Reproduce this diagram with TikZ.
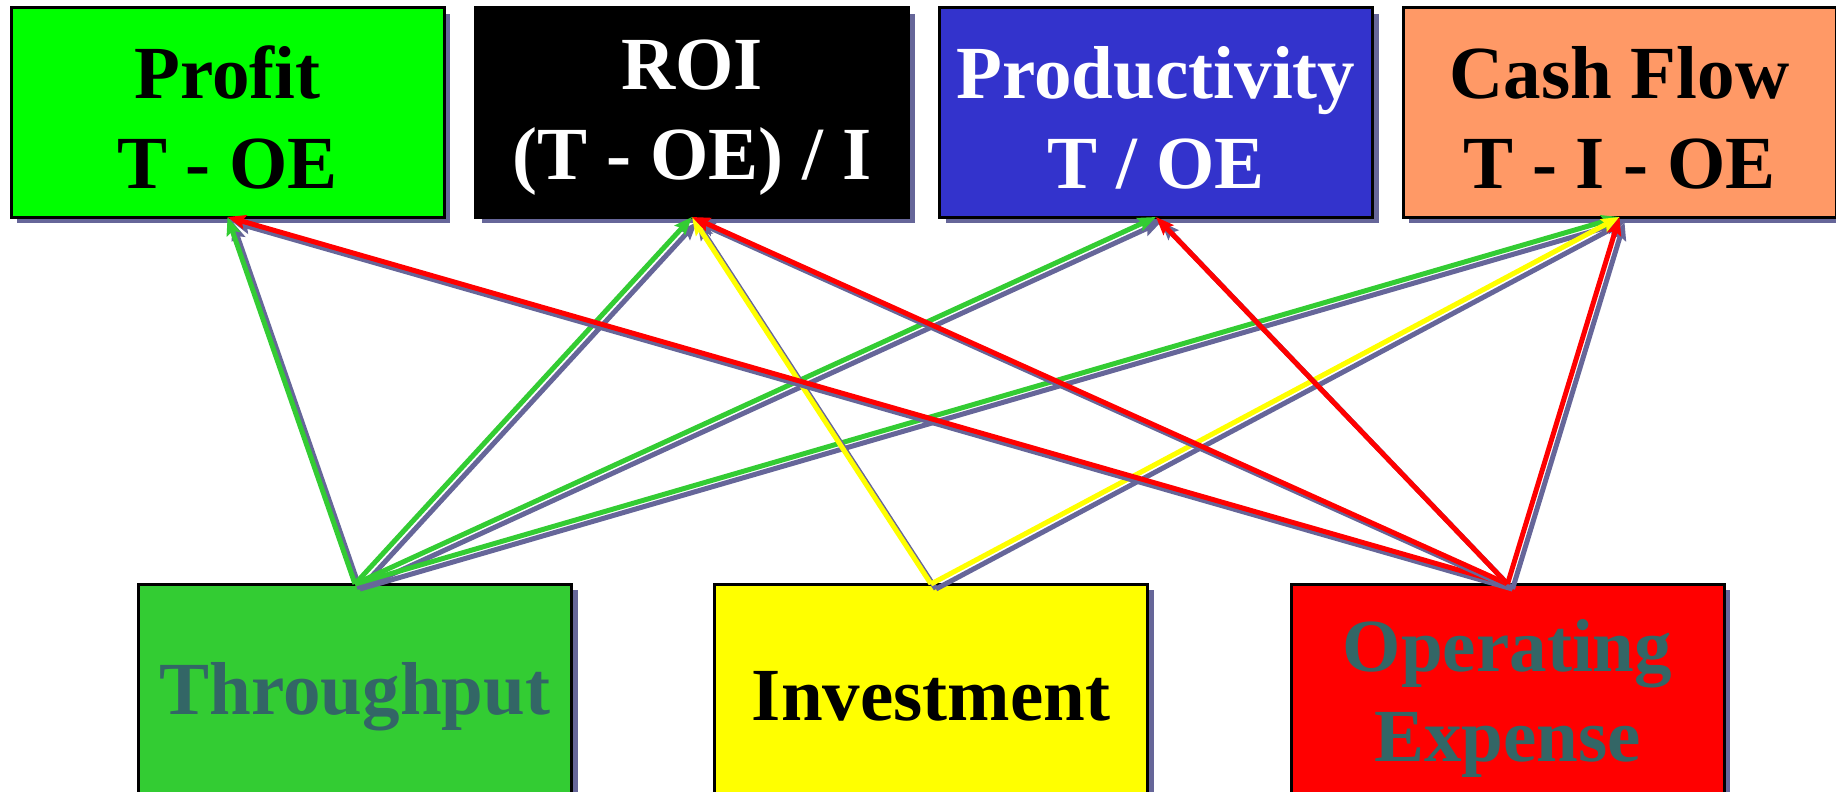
\documentclass[tikz,border=0pt]{standalone}
\usepackage{fontspec}
\setmainfont{Liberation Serif}
\usetikzlibrary{arrows.meta,shadows}

\definecolor{shade}{HTML}{666699}
\definecolor{limegreen}{HTML}{00FF00}
\definecolor{royal}{HTML}{3333CC}
\definecolor{salmon}{HTML}{FF9966}
\definecolor{leaf}{HTML}{33CC33}
\definecolor{lemon}{HTML}{FFFF00}
\definecolor{scarlet}{HTML}{FF0000}
\definecolor{teal}{HTML}{336666}

% one measurement link: offset shadow line, then the coloured arrow on top
\newcommand{\measlink}[3]{%
  \draw[link, draw=shade, fill=shade, transform canvas={xshift=5pt,yshift=-5pt}] (#2.north) -- (#3.south);
  \draw[link, draw=#1, fill=#1] (#2.north) -- (#3.south);
}

\begin{document}
\begin{tikzpicture}[x=1pt,y=-1pt,
  card/.style={draw=black, line width=3pt, minimum width=433pt, minimum height=209pt,
    inner sep=0pt, outer sep=0pt,
    drop shadow={shadow xshift=6pt, shadow yshift=-6pt, fill=shade, opacity=1}},
  caption/.style={inner sep=0pt, align=center, font=\fontsize{75}{90}\selectfont\bfseries},
  link/.style={line width=5pt, -{Stealth[length=18pt,width=14pt,inset=3pt]}},
]
\useasboundingbox (0,0) rectangle (1836,792);

% measures on top
\node[card, fill=limegreen] (profit) at (227.5,112.5) {};
\node[card, fill=black] (roi) at (692,112.5) {};
\node[card, fill=royal] (prod) at (1156,112.5) {};
\node[card, fill=salmon] (cash) at (1619.5,112.5) {};
\node[caption, text=black] (profit-t) at ([yshift=-5pt]profit.center) {Profit\\T - OE};
\node[caption, text=white] (roi-t) at ([yshift=-5pt]roi.center) {ROI\\(T - OE) / I};
\node[caption, text=white] (prod-t) at ([yshift=-5pt]prod.center) {Productivity\\T / OE};
\node[caption, text=black] (cash-t) at ([yshift=-5pt]cash.center) {Cash Flow\\T - I - OE};

% operational measures at the bottom
\node[card, fill=leaf] (thr) at (355,688.5) {};
\node[card, fill=lemon] (inv) at (931,688.5) {};
\node[card, fill=scarlet] (oe) at (1507.5,688.5) {};
\node[caption, text=teal] (thr-t) at ([yshift=-8pt]thr.center) {Throughput};
\node[caption, text=black] (inv-t) at ([yshift=-8pt]inv.center) {Investment};
\node[caption, text=teal] (oe-t) at ([yshift=-10pt]oe.center) {Operating\\Expense};

% throughput feeds every measure
\measlink{leaf}{thr}{profit}
\measlink{leaf}{thr}{roi}
\measlink{leaf}{thr}{prod}
\measlink{leaf}{thr}{cash}
% investment
\measlink{lemon}{inv}{roi}
\measlink{lemon}{inv}{cash}
% operating expense
\measlink{scarlet}{oe}{profit}
\measlink{scarlet}{oe}{roi}
\measlink{scarlet}{oe}{prod}
\measlink{scarlet}{oe}{cash}
\end{tikzpicture}
\end{document}
